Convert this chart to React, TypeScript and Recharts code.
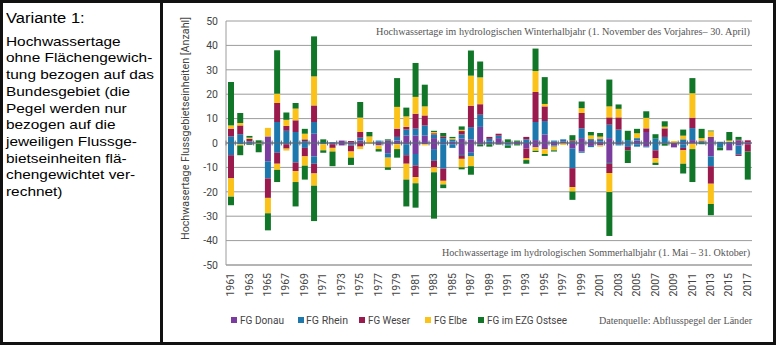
import React from 'react';
import {
  ComposedChart,
  Bar,
  XAxis,
  YAxis,
  CartesianGrid,
  ReferenceLine
} from 'recharts';

// Jahre (Kategorien)
const YEARS = [
  '1961', '1962', '1963', '1964', '1965', '1966', '1967', '1968', '1969', '1970',
  '1971', '1972', '1973', '1974', '1975', '1976', '1977', '1978', '1979', '1980',
  '1981', '1982', '1983', '1984', '1985', '1986', '1987', '1988', '1989', '1990',
  '1991', '1992', '1993', '1994', '1995', '1996', '1997', '1998', '1999', '2000',
  '2001', '2002', '2003', '2004', '2005', '2006', '2007', '2008', '2009', '2010',
  '2011', '2012', '2013', '2014', '2015', '2016', '2017'
];

const Y_TICKS = [-50, -40, -30, -20, -10, 0, 10, 20, 30, 40, 50];

// Winterhalbjahr (positiv)
const DONAU_WINTER = [
  0, 0, 0, 0, 2.7, 0, 0, 0, 0, 3.8,
  0, 0.3, 1, 0.3, 1, 0, 0.5, 1, 1, 3.1,
  3.1, 3.1, 2, 0, 0.5, 1.8, 1.5, 6.6, 0.5, 2,
  0, 0.5, 0, 1.2, 3.5, 0.5, 0.7, 0, 2, 0.8,
  0.5, 2, 0, 0, 1, 4.5, 0, 0, 0, 0,
  1.2, 0, 2.5, 0, 0, 1, 0.3
];
const RHEIN_WINTER = [
  2.7, 3.6, 0.7, 0, 0, 8.6, 5, 4.5, 0.8, 4.8,
  0, 0, 0, 0, 1.2, 0, 0.5, 0, 1.5, 2.4,
  2.8, 4.1, 1.5, 2, 1, 1.7, 5, 5, 1.2, 1,
  0.3, 0, 1.5, 7.4, 5.5, 0.5, 0.8, 0.5, 4, 0.8,
  1, 5.5, 5.5, 1.2, 1, 0, 1.8, 2.5, 0, 1.5,
  4.9, 0.7, 0, 0.5, 0.5, 0, 0
];
const WESER_WINTER = [
  3.2, 3.6, 1, 0, 0, 7.8, 2, 4.8, 0.7, 6.8,
  0, 0, 0, 0.5, 2.3, 0, 0, 0, 3.4, 1.1,
  6.1, 4.1, 0.5, 0.7, 0, 1.4, 8.8, 4.3, 0.8, 0.8,
  0, 0, 1, 12.3, 6, 0, 0, 0.5, 6.3, 0,
  0.3, 3, 5, 0, 0, 1.5, 0, 3.5, 0, 0,
  4.3, 0.3, 0, 0, 0, 0.3, 0.8
];
const ELBE_WINTER = [
  1.3, 1, 0.5, 0, 3.5, 3.8, 2.5, 4.8, 2.3, 11.9,
  0, 0, 0, 0, 5.9, 2.7, 0, 0, 8.9, 4.3,
  6.9, 3.7, 0.5, 0, 0.5, 0.5, 12.3, 11, 0, 0,
  0, 0, 0, 8.6, 1, 0, 0, 0, 2, 1.5,
  0.8, 4.5, 3.5, 0, 2, 4.3, 0, 0.7, 0.8, 1.5,
  10, 1, 2.3, 0, 0.5, 0, 0
];
const OSTSEE_WINTER = [
  17.8, 4.1, 0.7, 1.1, 0, 17.8, 3, 2.3, 2, 16.4,
  1.5, 0, 0, 0, 6.4, 1.8, 0, 0.5, 11.8, 3.6,
  13.9, 8.9, 0.5, 1.4, 0.5, 1.4, 10.3, 6.5, 0, 0,
  1.2, 0.5, 0, 9.2, 11, 0, 0, 2.2, 2.7, 1.4,
  1.5, 11, 1.8, 3.8, 1.8, 2.7, 1.8, 2.2, 0, 2.5,
  6.2, 3.8, 0.3, 0, 3.5, 1.2, 0
];

// Sommerhalbjahr (negativ)
const DONAU_SUMMER = [
  0, 0, 0, 0, -7.5, 0, 0, 0, 0, -5.5,
  0, 0, -1, -0.5, 0, 0, -1, -4.2, -0.5, -0.5,
  -4.5, -0.5, -2.5, -0.5, -0.5, -4.5, -4, -0.7, 0, -0.5,
  -0.5, -0.5, -2.3, -1.8, -2.5, -1, 0, -2.3, -3.5, -1.2,
  -1, -7.8, -0.5, 0, -0.5, -1.5, 0, -0.3, -1.8, -0.5,
  -0.3, 0, -5.5, 0, -3, -1, -0.5
];
const RHEIN_SUMMER = [
  -5, -0.5, -0.3, 0, -7, -4, -0.5, -8, -2, -3,
  -0.5, -0.5, 0, -0.5, 0, 0, 0, -1.8, 0, -4.5,
  -4.7, 0, -4.8, -10, -1.5, -0.5, -1.5, 0, -0.5, 0,
  -0.5, 0, 0, 0, 0, -0.5, 0, -8, -0.5, -0.5,
  0, -0.5, -0.5, -1.6, -1, -0.3, -3, 0, 0, -1.5,
  0, 0, -4, -1.8, 0, -3.8, 0
];
const WESER_SUMMER = [
  -9.5, 0, -0.2, 0, -8, -4.5, -1.8, -3.5, -3.5, -4,
  0, -1.5, 0, -2.5, -1.5, 0, 0, 0, 0, -3.5,
  -4.8, 0, -2.7, -5, 0, -1.5, 0, 0, 0, 0,
  0, 0, -4, 0, 0, 0, 0, -7.8, 0, 0,
  0, -4, 0, -1.4, 0, 0, -3.3, 0, 0, -1,
  0, 0, -7.2, 0, 0, -0.5, -3
];
const ELBE_SUMMER = [
  -7.5, -0.5, 0, -0.3, -6.3, -2.5, -0.8, -4.5, -3.8, -5,
  -2.5, -1.5, 0, -2.5, -1, -0.3, -1.5, -4, -2, -6.5,
  -2.5, -0.5, -2, -1.5, 0, -3.5, -4, 0, 0, 0,
  0, 0, -0.7, -1.4, -2, -1.5, -0.8, -1.8, 0, 0,
  -0.5, -7.8, 0, 0, 0, 0, -1.8, 0, 0, -5.5,
  -2.2, 0, -8.3, 0, 0, 0, 0
];
const OSTSEE_SUMMER = [
  -3.5, -4, -0.3, -3.5, -7, -5, 0, -10, -5.7, -14.5,
  -1, -6, 0, -3, 0, 0, -1, -1, -3.5, -11,
  -10, 0, -19, -1.5, 0, -0.8, -3.5, -0.7, -1, -0.2,
  -1, -0.5, -1.5, -0.5, -0.8, -0.5, 0, -3.4, 0, 0,
  0, -18, 0, -5.2, 0, 0, -0.9, -0.8, 0, -4,
  -13.5, -0.5, -4.6, -1.2, 0, 0, -11.5
];

const SERIES = [
  { key: 'donau', name: 'FG Donau', color: '#7a3d9f', winter: DONAU_WINTER, summer: DONAU_SUMMER },
  { key: 'rhein', name: 'FG Rhein', color: '#1c78ad', winter: RHEIN_WINTER, summer: RHEIN_SUMMER },
  { key: 'weser', name: 'FG Weser', color: '#9b1a4d', winter: WESER_WINTER, summer: WESER_SUMMER },
  { key: 'elbe', name: 'FG Elbe', color: '#fbc21a', winter: ELBE_WINTER, summer: ELBE_SUMMER },
  { key: 'ostsee', name: 'FG im EZG Ostsee', color: '#117628', winter: OSTSEE_WINTER, summer: OSTSEE_SUMMER }
];

const data = YEARS.map((year, i) => {
  const row: any = { year };
  SERIES.forEach((s) => {
    row[s.key + 'W'] = s.winter[i];
    row[s.key + 'S'] = s.summer[i];
  });
  return row;
});

// Legendenpositionen (x Quadrat, x Text, Textlaenge)
const LEGEND_POS = [
  { sq: 231, tx: 240, len: 44 },
  { sq: 298, tx: 306, len: 42 },
  { sq: 359, tx: 368, len: 42 },
  { sq: 425, tx: 434, len: 33 },
  { sq: 478, tx: 487, len: 80 }
];

const LEFT_LINES = [
  'Hochwassertage',
  'ohne Flächengewich-',
  'tung bezogen auf das',
  'Bundesgebiet (die',
  'Pegel werden nur',
  'bezogen auf die',
  'jeweiligen Flussge-',
  'bietseinheiten flä-',
  'chengewichtet ver-',
  'rechnet)'
];

const YearTick = ({ x, y, payload }: any) => (
  <text
    x={x}
    y={y}
    transform={`rotate(-90 ${x} ${y})`}
    textAnchor="end"
    dominantBaseline="central"
    fontSize={10.5}
    fontFamily="Roboto, sans-serif"
    fill="#444"
  >
    {payload.value}
  </text>
);

const App: React.FC = () => {
  return (
    <div
      style={{
        position: 'absolute',
        left: 0,
        top: 0,
        width: 776,
        height: 345,
        background: '#fff',
        overflow: 'hidden'
      }}
    >
      {/* linke Textspalte */}
      <div
        style={{
          position: 'absolute',
          left: 6,
          top: 10,
          fontFamily: '"Liberation Sans", Arial, sans-serif',
          fontSize: 14,
          lineHeight: '16.7px',
          color: '#000',
          whiteSpace: 'nowrap',
          transform: 'scaleX(1.18)',
          transformOrigin: 'left top'
        }}
      >
        Variante 1:
      </div>
      <div
        style={{
          position: 'absolute',
          left: 6,
          top: 33.7,
          fontFamily: '"Liberation Sans", Arial, sans-serif',
          fontSize: 13.5,
          lineHeight: '16.7px',
          color: '#000',
          whiteSpace: 'nowrap',
          transform: 'scaleX(1.14)',
          transformOrigin: 'left top'
        }}
      >
        {LEFT_LINES.map((l) => (
          <div key={l}>{l}</div>
        ))}
      </div>

      <div style={{ position: 'absolute', left: 0, top: 0 }}>
        <ComposedChart
          width={776}
          height={345}
          data={data}
          stackOffset="sign"
          barSize={6}
          margin={{ top: 21, right: 24, bottom: 40, left: 196 }}
        >
          <CartesianGrid vertical={false} stroke="#9c9c9c" strokeWidth={1} />
          <XAxis
            dataKey="year"
            interval={1}
            height={40}
            tickLine={false}
            axisLine={{ stroke: '#9c9c9c' }}
            tick={<YearTick />}
          />
          <YAxis
            type="number"
            domain={[-50, 50]}
            ticks={Y_TICKS}
            width={30}
            tickLine={false}
            axisLine={{ stroke: '#9c9c9c' }}
            tick={{ fontSize: 10.5, fill: '#444', fontFamily: 'Roboto, sans-serif' }}
          />
          {SERIES.map((s) => [
            <Bar
              key={s.key + 'W'}
              dataKey={s.key + 'W'}
              stackId="a"
              fill={s.color}
              isAnimationActive={false}
            />,
            <Bar
              key={s.key + 'S'}
              dataKey={s.key + 'S'}
              stackId="a"
              fill={s.color}
              isAnimationActive={false}
            />
          ])}
          <ReferenceLine y={0} stroke="#5b6877" strokeWidth={1} />
          {YEARS.map((y) => (
            <ReferenceLine
              key={'t' + y}
              segment={[{ x: y, y: -1 }, { x: y, y: 1 }]}
              position="start"
              stroke="#5b6877"
              strokeWidth={1}
            />
          ))}
        </ComposedChart>
      </div>

      {/* Beschriftungen */}
      <svg
        width={776}
        height={345}
        style={{ position: 'absolute', left: 0, top: 0, pointerEvents: 'none' }}
      >
        <text
          x={750}
          y={35}
          textAnchor="end"
          fontFamily='"Liberation Serif", serif'
          fontSize={9.5}
          fill="#555"
          textLength={374}
          lengthAdjust="spacingAndGlyphs"
        >
          Hochwassertage im hydrologischen Winterhalbjahr (1. November des Vorjahres– 30. April)
        </text>
        <text
          x={750}
          y={256}
          textAnchor="end"
          fontFamily='"Liberation Serif", serif'
          fontSize={9.5}
          fill="#555"
          textLength={308}
          lengthAdjust="spacingAndGlyphs"
        >
          Hochwassertage im hydrologischen Sommerhalbjahr (1. Mai – 31. Oktober)
        </text>
        <text
          x={0}
          y={0}
          transform="translate(189 128.5) rotate(-90)"
          textAnchor="middle"
          fontFamily="Roboto, sans-serif"
          fontSize={10}
          fill="#444"
          textLength={223}
          lengthAdjust="spacingAndGlyphs"
        >
          Hochwasertage Flussgebietseinheiten [Anzahl]
        </text>
        {SERIES.map((s, i) => (
          <g key={s.key}>
            <rect x={LEGEND_POS[i].sq} y={317} width={6} height={6} fill={s.color} />
            <text
              x={LEGEND_POS[i].tx}
              y={323.5}
              fontFamily="Roboto, sans-serif"
              fontSize={10}
              fill="#444"
              textLength={LEGEND_POS[i].len}
              lengthAdjust="spacingAndGlyphs"
            >
              {s.name}
            </text>
          </g>
        ))}
        <text
          x={752}
          y={323.5}
          textAnchor="end"
          fontFamily='"Liberation Serif", serif'
          fontSize={9.5}
          fill="#555"
          textLength={153}
          lengthAdjust="spacingAndGlyphs"
        >
          Datenquelle: Abflusspegel der Länder
        </text>
      </svg>

      {/* Rahmen */}
      <div
        style={{
          position: 'absolute',
          left: 0,
          top: 0,
          width: 776,
          height: 345,
          boxSizing: 'border-box',
          border: '3px solid #111',
          pointerEvents: 'none'
        }}
      />
      <div
        style={{
          position: 'absolute',
          left: 160,
          top: 0,
          width: 3,
          height: 345,
          background: '#111'
        }}
      />
    </div>
  );
};

export default App;
